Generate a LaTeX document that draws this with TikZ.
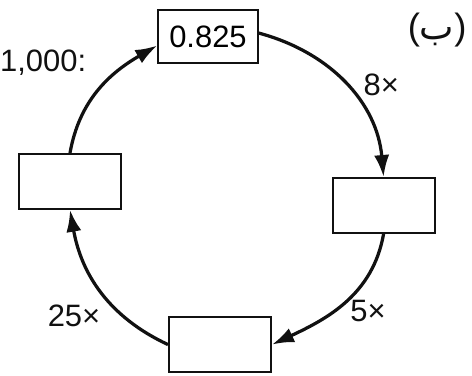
\documentclass[tikz,border=0pt]{standalone}
\usepackage{fontspec}
\setmainfont{Liberation Sans}
\newfontfamily\arabicfont[Script=Arabic]{DejaVu Sans}
\usepackage{tikz}
\usetikzlibrary{arrows.meta,calc,positioning}
\definecolor{CycInk}{HTML}{111111}

\begin{document}
\begin{tikzpicture}[
    cycbox/.style={draw=CycInk,line width=1.4pt,minimum width=2.55cm,minimum height=1.37cm,inner sep=0pt},
    cyclbl/.style={font=\fontsize{22}{24}\selectfont,text=CycInk,inner sep=0pt},
    cycarc/.style={CycInk,line width=2.3pt,-{Latex[length=5.5mm,width=3.8mm]}}]
  \useasboundingbox (0,0) rectangle (11.8,9.375);
  % the four boxes of the cycle
  \node[cycbox,line width=1pt,minimum width=2.5cm,minimum height=1.33cm,font=\fontsize{22}{24}\selectfont] (top) at (5.2,8.46) {0.825};
  \node[cycbox] (right) at (9.59,4.24) {};
  \node[cycbox] (bottom) at (5.5,0.76) {};
  \node[cycbox] (left) at (1.75,4.84) {};
  % labels
  \node[cyclbl,font=\fontsize{26}{28}\selectfont] (tag) at (10.93,8.63) {({\arabicfont ب})};
  \node[cyclbl] (start) at (1.08,7.8) {1,000:};
  \node[cyclbl] (eight) at (9.53,7.25) {8×};
  \node[cyclbl] (five) at (9.2,1.6) {5×};
  \node[cyclbl] (twofive) at (1.85,1.48) {25×};
  % arrows round the cycle
  \draw[cycarc] (top.4) to[out=-15,in=95] (right.north);
  \draw[cycarc] (right.south) to[out=-100,in=25] (bottom.east);
  \draw[cycarc] (bottom.west) to[out=155,in=-80] (left.south);
  \draw[cycarc] (left.north) to[out=80,in=-150] (top.190);
\end{tikzpicture}
\end{document}
